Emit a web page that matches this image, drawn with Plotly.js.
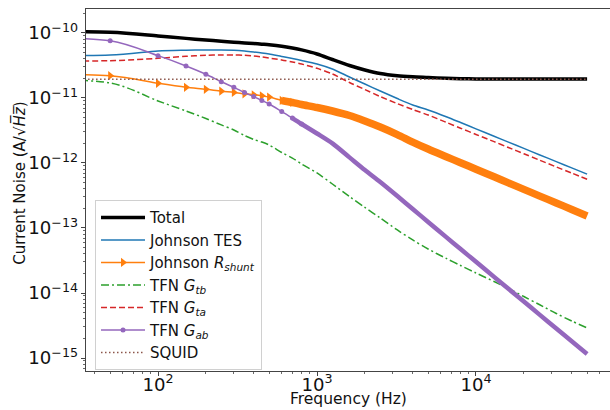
<!DOCTYPE html>
<html>
<head>
<meta charset="utf-8">
<script src="https://cdn.plot.ly/plotly-3.0.1.min.js"></script>
<style>html,body{margin:0;padding:0;background:#fff;}#chart{width:610px;height:410px;}</style>
</head>
<body>
<div id="chart"></div>
<script>
// Frequency grid (Hz); the first point stands in for the DC value
const freq = [1, 50, 100, 150, 200, 250, 300, 350, 400, 450, 500, 600, 700, 800, 1000, 1250, 1600, 2000, 2500, 3200, 4000, 5000, 6500, 8000, 10000, 13000, 16000, 20000, 25000, 32000, 40000, 50000];

const total = [1.025e-10, 1.025e-10, 8.99e-11, 8.26e-11, 7.8e-11, 7.48e-11, 7.22e-11, 7.01e-11, 6.87e-11, 6.73e-11, 6.6e-11, 6.27e-11, 5.88e-11, 5.49e-11, 4.75e-11, 3.91e-11, 3.16e-11, 2.7e-11, 2.38e-11, 2.2e-11, 2.12e-11, 2.07e-11, 2.01e-11, 1.98e-11, 1.96e-11, 1.96e-11, 1.96e-11, 1.96e-11, 1.96e-11, 1.96e-11, 1.96e-11, 1.96e-11];

const johnsonTES = [4.59e-11, 4.59e-11, 5.28e-11, 5.42e-11, 5.48e-11, 5.48e-11, 5.42e-11, 5.28e-11, 5.1e-11, 4.93e-11, 4.75e-11, 4.35e-11, 4.05e-11, 3.78e-11, 3.33e-11, 2.79e-11, 2.1e-11, 1.64e-11, 1.28e-11, 9.8e-12, 7.8e-12, 6.53e-12, 5.14e-12, 4.19e-12, 3.35e-12, 2.58e-12, 2.09e-12, 1.68e-12, 1.34e-12, 1.05e-12, 8.4e-13, 6.73e-13];

const johnsonRshunt = [2.2e-11, 2.2e-11, 1.68e-11, 1.46e-11, 1.36e-11, 1.27e-11, 1.22e-11, 1.16e-11, 1.12e-11, 1.08e-11, 1.035e-11, 9.16e-12, 8.53e-12, 7.94e-12, 7.14e-12, 6.31e-12, 5.38e-12, 4.43e-12, 3.58e-12, 2.74e-12, 2.1e-12, 1.64e-12, 1.25e-12, 1.01e-12, 8.03e-13, 6.14e-13, 4.94e-13, 3.93e-13, 3.12e-13, 2.43e-13, 1.93e-13, 1.53e-13];

const tfnGtb = [1.7e-11, 1.7e-11, 9.0e-12, 6.31e-12, 4.84e-12, 3.85e-12, 3.22e-12, 2.65e-12, 2.3e-12, 2.1e-12, 1.89e-12, 1.45e-12, 1.19e-12, 9.66e-13, 7.02e-13, 4.75e-13, 3.05e-13, 2.07e-13, 1.43e-13, 9.32e-14, 6.54e-14, 4.75e-14, 3.4e-14, 2.65e-14, 2.03e-14, 1.5e-14, 1.17e-14, 8.83e-15, 6.65e-15, 4.84e-15, 3.71e-15, 2.9e-15];

const tfnGta = [3.75e-11, 3.75e-11, 4.08e-11, 4.38e-11, 4.54e-11, 4.59e-11, 4.59e-11, 4.54e-11, 4.43e-11, 4.28e-11, 4.12e-11, 3.85e-11, 3.58e-11, 3.33e-11, 2.86e-11, 2.34e-11, 1.73e-11, 1.35e-11, 1.05e-11, 8.2e-12, 6.65e-12, 5.47e-12, 4.22e-12, 3.43e-12, 2.75e-12, 2.13e-12, 1.73e-12, 1.39e-12, 1.11e-12, 8.7e-13, 7.0e-13, 5.61e-13];

const tfnGab = [7.61e-11, 7.61e-11, 4.48e-11, 3.11e-11, 2.32e-11, 1.78e-11, 1.46e-11, 1.21e-11, 1.05e-11, 9.16e-12, 8.09e-12, 6.19e-12, 4.92e-12, 3.98e-12, 2.84e-12, 2.0e-12, 1.22e-12, 7.8e-13, 5.1e-13, 3.1e-13, 1.96e-13, 1.24e-13, 7.24e-14, 4.75e-14, 3.02e-14, 1.77e-14, 1.16e-14, 7.38e-15, 4.69e-15, 2.84e-15, 1.81e-15, 1.15e-15];

const squid = [1.94e-11, 1.94e-11, 1.94e-11, 1.94e-11, 1.94e-11, 1.94e-11, 1.94e-11, 1.94e-11, 1.94e-11, 1.94e-11, 1.94e-11, 1.94e-11, 1.94e-11, 1.94e-11, 1.94e-11, 1.94e-11, 1.94e-11, 1.94e-11, 1.94e-11, 1.94e-11, 1.94e-11, 1.94e-11, 1.94e-11, 1.94e-11, 1.94e-11, 1.94e-11, 1.94e-11, 1.94e-11, 1.94e-11, 1.94e-11, 1.94e-11, 1.94e-11];

const names = ['Total', 'Johnson TES', 'Johnson <i>R</i><sub><i>shunt</i></sub>', 'TFN <i>G</i><sub><i>tb</i></sub>', 'TFN <i>G</i><sub><i>ta</i></sub>', 'TFN <i>G</i><sub><i>ab</i></sub>', 'SQUID'];
const xTitle = 'Frequency (Hz)';
const yTitle = 'Current Noise (A/√<i>H\u0305z\u0305</i>)';

function pick(arr, test) { return arr.filter((v, i) => test(freq[i])); }
const sm = 0.8;

const traces = [
  {x: freq, y: total, mode: 'lines', name: names[0], line: {color: '#000000', width: 3.5, shape: 'spline', smoothing: sm}},
  {x: freq, y: johnsonTES, mode: 'lines', name: names[1], line: {color: '#1f77b4', width: 1.5, shape: 'spline', smoothing: sm}},
  {x: pick(freq, f => f >= 600), y: pick(johnsonRshunt, f => f >= 600), mode: 'lines', showlegend: false, hoverinfo: 'skip', line: {color: '#ff7f0e', width: 7.5, shape: 'spline', smoothing: sm}},
  {x: pick(freq, f => f <= 700), y: pick(johnsonRshunt, f => f <= 700), mode: 'lines+markers', name: names[2], line: {color: '#ff7f0e', width: 1.5, shape: 'spline', smoothing: sm}, marker: {symbol: 'triangle-right', size: 8, color: '#ff7f0e'}},
  {x: freq, y: tfnGtb, mode: 'lines', name: names[3], line: {color: '#2ca02c', width: 1.5, dash: '8px,3px,2px,3px', shape: 'spline', smoothing: sm}},
  {x: freq, y: tfnGta, mode: 'lines', name: names[4], line: {color: '#d62728', width: 1.5, dash: '6px,3px', shape: 'spline', smoothing: sm}},
  {x: pick(freq, f => f >= 700), y: pick(tfnGab, f => f >= 700), mode: 'lines', showlegend: false, hoverinfo: 'skip', line: {color: '#9467bd', width: 4.5, shape: 'spline', smoothing: sm}},
  {x: pick(freq, f => f <= 800), y: pick(tfnGab, f => f <= 800), mode: 'lines+markers', name: names[5], line: {color: '#9467bd', width: 1.5, shape: 'spline', smoothing: sm}, marker: {symbol: 'circle', size: 5, color: '#9467bd'}},
  {x: freq, y: squid, mode: 'lines', name: names[6], line: {color: '#8c564b', width: 1.5, dash: '1.5px,2.5px'}}
];

const axisCommon = {
  type: 'log',
  showgrid: false,
  zeroline: false,
  showline: true,
  linecolor: '#444',
  linewidth: 1,
  ticks: 'outside',
  ticklen: 4,
  tickwidth: 1,
  tickcolor: '#444',
  dtick: 1,
  exponentformat: 'power',
  tickfont: {family: 'DejaVu Sans', size: 14.5, color: '#111'},
  minor: {ticks: 'outside', ticklen: 2, tickwidth: 0.8, tickcolor: '#444', dtick: 'D1', showgrid: false}
};

const layout = {
  width: 610,
  height: 410,
  margin: {l: 86, r: 0, t: 9, b: 39},
  paper_bgcolor: '#ffffff',
  plot_bgcolor: '#ffffff',
  font: {family: 'DejaVu Sans', color: '#111'},
  showlegend: true,
  xaxis: Object.assign({}, axisCommon, {
    range: [1.547, 4.843],
    mirror: true,
    ticklabelstandoff: -6
  }),
  yaxis: Object.assign({}, axisCommon, {
    range: [-15.2, -9.631],
    mirror: false
  }),
  annotations: [
    {text: xTitle, xref: 'paper', yref: 'paper', x: 0.5, y: -0.1077, xanchor: 'center', yanchor: 'bottom', showarrow: false,
     font: {family: 'DejaVu Sans', size: 15.5, color: '#111'}},
    {text: yTitle, xref: 'paper', yref: 'paper', x: -0.126, y: 0.52, xanchor: 'center', yanchor: 'middle', textangle: -90, showarrow: false,
     font: {family: 'DejaVu Sans', size: 15, color: '#111'}}
  ],
  legend: {
    x: 0.0172, y: 0.472, xanchor: 'left', yanchor: 'top',
    bgcolor: 'rgba(255,255,255,0.8)', bordercolor: '#d0d0d0', borderwidth: 1,
    font: {family: 'DejaVu Sans', size: 15, color: '#111'},
    itemwidth: 44,
    tracegroupgap: 0
  }
};

Plotly.newPlot('chart', traces, layout, {staticPlot: true, displayModeBar: false});
</script>
</body>
</html>
